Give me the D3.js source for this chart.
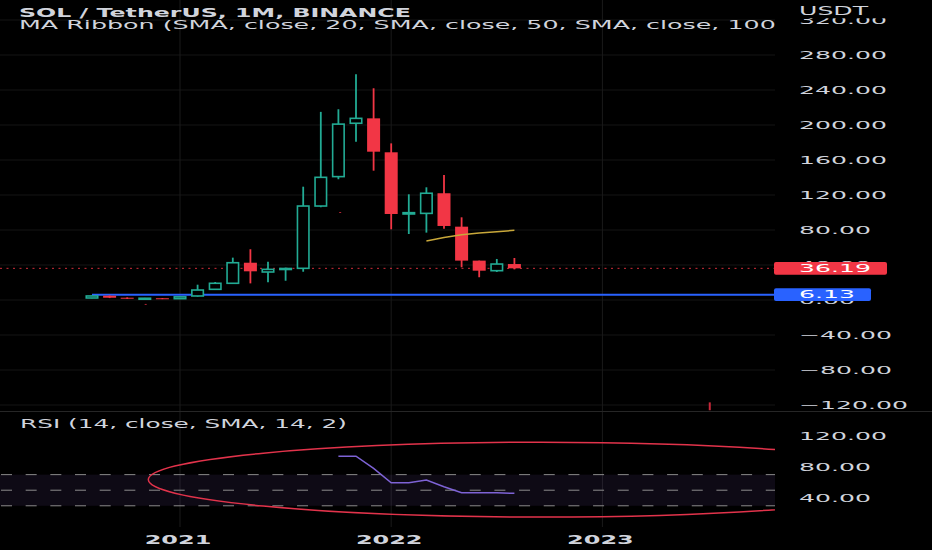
<!DOCTYPE html>
<html><head><meta charset="utf-8">
<script src="https://cdn.jsdelivr.net/npm/d3@7/dist/d3.min.js"></script>
<style>html,body{margin:0;padding:0;background:#000;overflow:hidden}</style>
</head><body><svg id="c" width="932" height="550"></svg>
<script>
// ---------------- data ----------------
const months = ["2020-08","2020-09","2020-10","2020-11","2020-12","2021-01","2021-02","2021-03","2021-04","2021-05","2021-06","2021-07","2021-08","2021-09","2021-10","2021-11","2021-12","2022-01","2022-02","2022-03","2022-04","2022-05","2022-06","2022-07","2022-08"];
const open  = [2.3, 4.9, 2.6, 1.5, 2.0, 1.5, 4.6, 12.2, 19.1, 42.6, 32.0, 35.0, 36.2, 107.4, 141.0, 202.0, 207.6, 168.8, 98.3, 99.0, 122.0, 83.8, 45.0, 33.5, 41.1];
const high  = [5.0, 5.2, 3.0, 2.4, 2.3, 4.0, 17.5, 20.6, 48.4, 58.0, 43.8, 37.0, 129.5, 215.0, 218.0, 258.0, 242.0, 179.0, 120.8, 128.8, 142.9, 94.5, 45.0, 46.9, 48.0];
const low   = [2.0, 2.2, 1.2, 0.9, 1.0, 1.2, 3.8, 11.5, 18.3, 19.0, 20.2, 22.0, 32.3, 106.0, 138.0, 181.0, 147.8, 80.8, 75.4, 77.0, 81.5, 37.4, 26.0, 32.0, 35.0];
const close = [4.6, 2.6, 1.5, 2.0, 1.5, 3.6, 11.4, 19.1, 42.6, 32.8, 35.0, 36.0, 107.4, 140.2, 201.0, 207.6, 169.5, 98.3, 99.8, 122.0, 84.6, 45.0, 33.5, 41.1, 36.19];

const maMonths = ["2022-03","2022-04","2022-05","2022-06","2022-07","2022-08"];
const maValues = [67.4, 71.5, 74.5, 76.5, 78.0, 79.6];

const rsiMonths = ["2021-10","2021-11","2021-12","2022-01","2022-02","2022-03","2022-04","2022-05","2022-06","2022-07","2022-08"];
const rsiValues = [93.7, 93.7, 78.0, 59.5, 59.5, 63.0, 54.4, 46.7, 46.7, 46.7, 46.0];

const priceTicks = [320, 280, 240, 200, 160, 120, 80, 40, 0, -40, -80, -120];
const rsiTicks = [120, 80, 40];
const rsiLevels = [70, 50, 30];
const yearMonths = ["2021-01", "2022-01", "2023-01"];
const yearLabels = ["2021", "2022", "2023"];

const lastPrice = 36.19;
const levelPrice = 6.13;
const levelStart = "2020-08";

// drawn ellipse on RSI pane (center month offset, center rsi, radii)
const ellipseCenterMonth = 25.5, ellipseRadiusMonths = 22.3;
const ellipseCenterRsi = 63.6, ellipseRadiusRsi = 48;

// small stray drawing marks seen on the chart: [month offset, value from, value to]
const strayMarks = [[3.05, -4.5, -5.5], [14.1, 100.5, 99.5], [35.1, -117, -126]];

const title1 = "SOL / TetherUS, 1M, BINANCE";
const title2 = "MA Ribbon (SMA, close, 20, SMA, close, 50, SMA, close, 100, SMA, close, 200)";
const title2Prefix = "MA Ribbon (SMA, close, 20, SMA, close, 50, SMA, close, 10";
const rsiTitle = "RSI (14, close, SMA, 14, 2)";

// ---------------- setup ----------------
const W = 932, H = 550;
const plotR = 775, mainB = 411, rsiB = 527;
const UP = "#22ab94", DOWN = "#f23645", TXT = "#d1d4dc";
const FONT = "DejaVu Sans, Verdana, sans-serif";

const idx = m => { const [y, mo] = m.split("-").map(Number); return (y - 2020) * 12 + (mo - 8); };
const x = d3.scaleLinear().domain([0, 1]).range([92, 92 + 17.6]);
const y = d3.scaleLinear().domain([-120, 280]).range([405, 55]);
const yR = d3.scaleLinear().domain([40, 120]).range([498, 435.7]);

const svg = d3.select("#c");
svg.append("rect").attr("width", W).attr("height", H).attr("fill", "#000");
const defs = svg.append("defs");
defs.append("clipPath").attr("id", "cm").append("rect").attr("x", 0).attr("y", 0).attr("width", plotR).attr("height", mainB);
defs.append("clipPath").attr("id", "cr").append("rect").attr("x", 0).attr("y", mainB).attr("width", plotR).attr("height", rsiB - mainB);

function measure(str, size, weight) {
  const t = svg.append("text").attr("font-family", FONT).attr("font-size", size).attr("font-weight", weight || "normal").text(str);
  const w = t.node().getComputedTextLength(); t.remove(); return w;
}
const TICK_FS = 10.5;
const kTick = 88 / measure("280.00", TICK_FS);

function stretchText(g, str, px, py, size, k, opts) {
  opts = opts || {};
  return g.append("text").attr("font-family", FONT).attr("font-size", size)
    .attr("font-weight", opts.weight || "normal").attr("fill", opts.fill || TXT)
    .attr("transform", `translate(${px},${py}) scale(${k},1)`).text(str);
}

// ---------------- grid ----------------
const grid = svg.append("g");
grid.selectAll("line.h").data(priceTicks).join("line")
  .attr("x1", 0).attr("x2", plotR).attr("y1", d => y(d)).attr("y2", d => y(d))
  .attr("stroke", "#141414").attr("stroke-width", 1);
grid.selectAll("line.v").data(yearMonths).join("line")
  .attr("x1", d => x(idx(d))).attr("x2", d => x(idx(d))).attr("y1", 0).attr("y2", rsiB)
  .attr("stroke", "#1a1a1a").attr("stroke-width", 1);
svg.append("line").attr("x1", 0).attr("x2", W).attr("y1", mainB + 0.5).attr("y2", mainB + 0.5)
  .attr("stroke", "#262626").attr("stroke-width", 1.2);

// ---------------- main pane ----------------
const main = svg.append("g").attr("clip-path", "url(#cm)");
main.append("line").attr("x1", x(idx(levelStart))).attr("x2", plotR)
  .attr("y1", y(levelPrice)).attr("y2", y(levelPrice)).attr("stroke", "#2962ff").attr("stroke-width", 2);
main.append("line").attr("x1", 0).attr("x2", plotR)
  .attr("y1", y(lastPrice)).attr("y2", y(lastPrice)).attr("stroke", DOWN).attr("stroke-width", 1)
  .attr("stroke-dasharray", "2,4.5").attr("opacity", 0.85);

const candles = months.map((m, i) => ({ i: idx(m), o: open[i], h: high[i], l: low[i], c: close[i] }));
const bw = 13;
const cg = main.append("g");
candles.forEach(d => {
  const up = d.c >= d.o;
  const col = up ? UP : DOWN;
  const xc = x(d.i);
  const top = y(Math.max(d.o, d.c)), bot = y(Math.min(d.o, d.c));
  const hgt = Math.max(1, bot - top);
  if (up) {
    cg.append("line").attr("x1", xc).attr("x2", xc).attr("y1", y(d.h)).attr("y2", top).attr("stroke", col).attr("stroke-width", 1.8);
    cg.append("line").attr("x1", xc).attr("x2", xc).attr("y1", top + hgt).attr("y2", Math.max(y(d.l), top + hgt)).attr("stroke", col).attr("stroke-width", 1.8);
    cg.append("rect").attr("x", xc - bw / 2 + 0.75).attr("y", top).attr("width", bw - 1.5).attr("height", hgt)
      .attr("fill", "#000").attr("stroke", col).attr("stroke-width", 1.6);
  } else {
    cg.append("line").attr("x1", xc).attr("x2", xc).attr("y1", y(d.h)).attr("y2", y(d.l)).attr("stroke", col).attr("stroke-width", 1.8);
    cg.append("rect").attr("x", xc - bw / 2).attr("y", top).attr("width", bw).attr("height", hgt).attr("fill", col);
  }
});

main.append("path").datum(maMonths.map((m, i) => [idx(m), maValues[i]]))
  .attr("d", d3.line().x(d => x(d[0])).y(d => y(d[1])))
  .attr("fill", "none").attr("stroke", "#c9a83a").attr("stroke-width", 1.5);

main.selectAll("line.stray").data(strayMarks).join("line")
  .attr("x1", d => x(d[0])).attr("x2", d => x(d[0])).attr("y1", d => y(d[1])).attr("y2", d => y(d[2]))
  .attr("stroke", "#c8283a").attr("stroke-width", 2);

// ---------------- RSI pane ----------------
const rsi = svg.append("g").attr("clip-path", "url(#cr)");
rsi.append("rect").attr("x", 0).attr("width", plotR).attr("y", yR(70)).attr("height", yR(30) - yR(70))
  .attr("fill", "rgba(126,87,194,0.11)");
rsi.selectAll("line.lv").data(rsiLevels).join("line")
  .attr("x1", 1).attr("x2", plotR).attr("y1", d => yR(d)).attr("y2", d => yR(d))
  .attr("stroke", "#8b8b8b").attr("stroke-width", 1).attr("stroke-dasharray", "11,13.67");
rsi.append("ellipse")
  .attr("cx", x(ellipseCenterMonth)).attr("cy", yR(ellipseCenterRsi))
  .attr("rx", x(ellipseCenterMonth + ellipseRadiusMonths) - x(ellipseCenterMonth))
  .attr("ry", yR(ellipseCenterRsi - ellipseRadiusRsi) - yR(ellipseCenterRsi))
  .attr("fill", "none").attr("stroke", "#e2334b").attr("stroke-width", 1.5);
rsi.append("path").datum(rsiMonths.map((m, i) => [idx(m), rsiValues[i]]))
  .attr("d", d3.line().x(d => x(d[0])).y(d => yR(d[1])))
  .attr("fill", "none").attr("stroke", "#7e63d6").attr("stroke-width", 1.5);

// ---------------- axes ----------------
const ax = svg.append("g").attr("transform", "translate(799,0)")
  .call(d3.axisRight(y).tickValues(priceTicks).tickFormat(d3.format(".2f")).tickSize(0).tickPadding(0));
ax.select(".domain").remove();
ax.selectAll("text").attr("font-family", FONT).attr("font-size", TICK_FS).attr("fill", TXT)
  .attr("text-anchor", "start").attr("transform", `scale(${kTick},1)`);

const axr = svg.append("g").attr("transform", "translate(799,0)")
  .call(d3.axisRight(yR).tickValues(rsiTicks).tickFormat(d3.format(".2f")).tickSize(0).tickPadding(0));
axr.select(".domain").remove();
axr.selectAll("text").attr("font-family", FONT).attr("font-size", TICK_FS).attr("fill", TXT)
  .attr("text-anchor", "start").attr("transform", `scale(${kTick},1)`);

svg.append("rect").attr("x", plotR).attr("y", 0).attr("width", W - plotR).attr("height", 18.3).attr("fill", "#000");
stretchText(svg, "USDT", 799, 15, 11.4, 69 / measure("USDT", 11.4));

function priceLabel(v, w, col) {
  const cy = y(v);
  svg.append("rect").attr("x", 774).attr("y", cy - 6.3).attr("width", w).attr("height", 12.6).attr("rx", 2).attr("fill", col);
  stretchText(svg, d3.format(".2f")(v), 799, cy + 3.8, TICK_FS, kTick, { fill: "#fff" });
}
priceLabel(lastPrice, 113, DOWN);
priceLabel(levelPrice, 97, "#2962ff");

const kYear = 66.7 / measure("2021", 12.3, "bold");
yearMonths.forEach((m, i) => {
  stretchText(svg, yearLabels[i], x(idx(m)) - 2, 544, 12.3, kYear, { weight: "bold" }).attr("text-anchor", "middle");
});

// ---------------- titles ----------------
stretchText(svg, title1, 19, 16.7, 11.5, 392 / measure(title1, 11.5, "bold"), { weight: "bold" });
const tg = svg.append("g").attr("clip-path", "url(#cm)");
stretchText(tg, title2, 19, 29, 11.5, 741 / measure(title2Prefix, 11.5));
stretchText(svg, rsiTitle, 20, 428.3, 12.3, 327 / measure(rsiTitle, 12.3));
</script></body></html>
